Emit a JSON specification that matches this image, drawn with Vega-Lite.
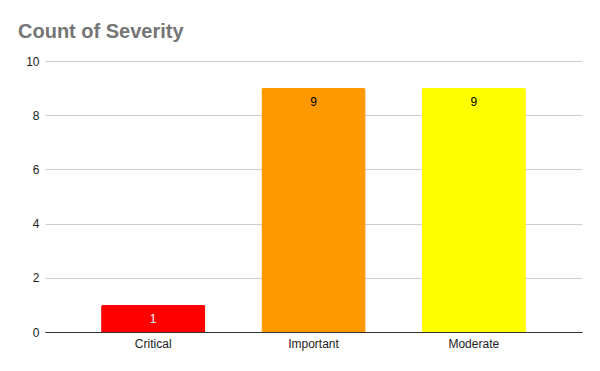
{
  "$schema": "https://vega.github.io/schema/vega-lite/v6.json",
  "autosize": "none",
  "width": 537,
  "height": 271,
  "padding": {"left": 45, "top": 61, "right": 18, "bottom": 39},
  "background": "white",
  "title": {"text": "Count of Severity", "anchor": "start", "frame": "group", "dx": -27, "offset": 13, "font": "Liberation Sans", "fontSize": 20, "fontWeight": "bold", "color": "#757575"},
  "data": {"values": [
    {"severity": "Critical", "count": 1, "color": "#ff0000"},
    {"severity": "Important", "count": 9, "color": "#ff9900"},
    {"severity": "Moderate", "count": 9, "color": "#ffff00"}
  ]},
  "encoding": {
    "x": {"field": "severity", "type": "nominal", "sort": null,
      "scale": {"paddingInner": 0.35, "paddingOuter": 0.35},
      "axis": {"title": null, "labelAngle": 0, "ticks": false, "domain": true, "domainColor": "#333333", "labelFont": "Liberation Sans", "labelFontSize": 12, "labelColor": "#222222", "labelPadding": 6, "grid": false}},
    "y": {"field": "count", "type": "quantitative",
      "scale": {"domain": [0, 10]},
      "axis": {"title": null, "values": [0, 2, 4, 6, 8, 10], "ticks": false, "domain": false, "gridColor": "#cccccc", "labelFont": "Liberation Sans", "labelFontSize": 12, "labelColor": "#222222", "labelPadding": 6}}
  },
  "layer": [
    {"mark": {"type": "bar", "cornerRadiusTopLeft": 2, "cornerRadiusTopRight": 2},
     "encoding": {"color": {"field": "color", "type": "nominal", "scale": null}}},
    {"mark": {"type": "text", "baseline": "middle", "dy": 14, "font": "Liberation Sans", "fontSize": 12},
     "encoding": {"text": {"field": "count", "type": "quantitative"},
       "color": {"condition": {"test": "datum.count < 5", "value": "#ffffff"}, "value": "#000000"}}}
  ],
  "config": {"view": {"stroke": null}}
}
